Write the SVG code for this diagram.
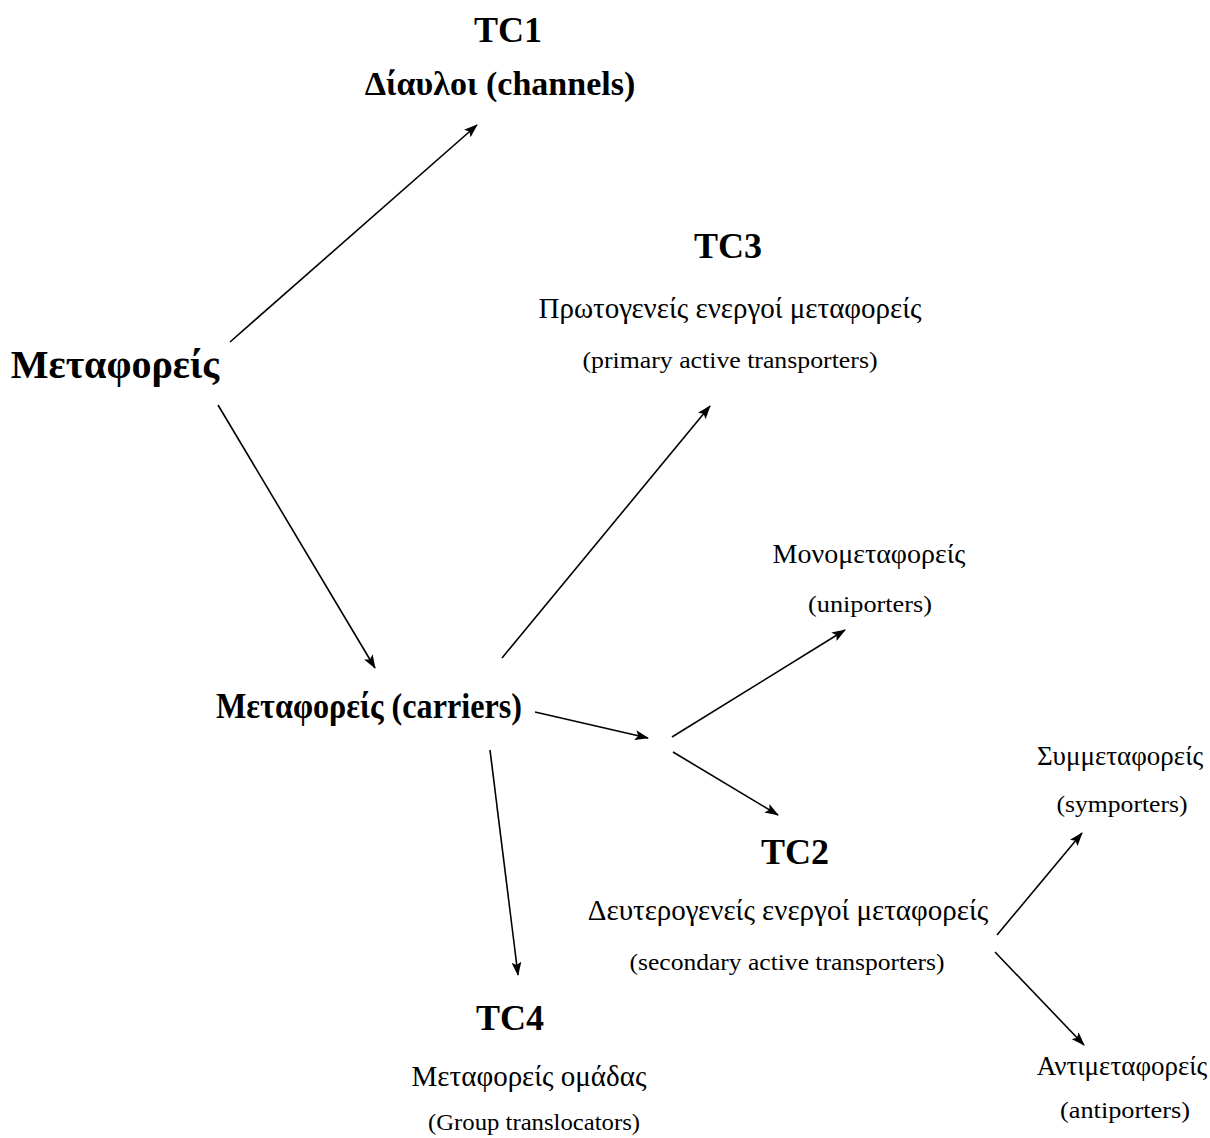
<svg xmlns="http://www.w3.org/2000/svg" width="1210" height="1138" viewBox="0 0 1210 1138">
<defs>
<marker id="ah" markerWidth="14" markerHeight="10" refX="13" refY="5" orient="auto" markerUnits="userSpaceOnUse">
<path d="M0,0 L14,5 L0,10 L3,5 Z" fill="#000"/>
</marker>
<style>
text{font-family:"Liberation Serif","DejaVu Serif",serif;fill:#000;text-anchor:middle}
.h{font-weight:bold;font-size:36px}
.hb{font-weight:bold;font-size:34px}
.g{font-size:29px}
.e{font-size:24px}
.s{font-size:28px}
.s2{font-size:27px}
.se{font-size:24px}
.c line{stroke:#000;stroke-width:1.6;marker-end:url(#ah)}
</style>
</defs>
<rect width="1210" height="1138" fill="#fff"/>
<g id="connectors" class="c">
<line x1="230" y1="342" x2="477" y2="125"/>
<line x1="218" y1="405" x2="375" y2="668"/>
<line x1="502" y1="658" x2="710" y2="406"/>
<line x1="535" y1="712" x2="648" y2="738"/>
<line x1="672" y1="737" x2="845" y2="630"/>
<line x1="673" y1="752" x2="778" y2="815"/>
<line x1="490" y1="750" x2="518" y2="975"/>
<line x1="997" y1="935" x2="1082" y2="833"/>
<line x1="995" y1="952" x2="1084" y2="1045"/>
</g>
<g id="tc1">
<text class="h" x="508" y="42">TC1</text>
<text class="hb" x="500" y="95">Δίαυλοι (channels)</text>
</g>
<g id="root">
<text class="h" x="115" y="378" style="font-size:40px">Μεταφορείς</text>
</g>
<g id="tc3">
<text class="h" x="728" y="258">TC3</text>
<text class="g" x="730" y="318">Πρωτογενείς ενεργοί μεταφορείς</text>
<text class="e" x="730" y="368" textLength="295" lengthAdjust="spacingAndGlyphs">(primary active transporters)</text>
</g>
<g id="uniporters">
<text class="s" x="869" y="563">Μονομεταφορείς</text>
<text class="se" x="870" y="612" textLength="124" lengthAdjust="spacingAndGlyphs">(uniporters)</text>
</g>
<g id="carriers">
<text class="h" x="369" y="718" textLength="306" lengthAdjust="spacingAndGlyphs">Μεταφορείς (carriers)</text>
</g>
<g id="tc2">
<text class="h" x="795" y="864">TC2</text>
<text class="g" x="788" y="920">Δευτερογενείς ενεργοί μεταφορείς</text>
<text class="e" x="787" y="970" textLength="315" lengthAdjust="spacingAndGlyphs">(secondary active transporters)</text>
</g>
<g id="symporters">
<text class="s2" x="1120" y="765">Συμμεταφορείς</text>
<text class="se" x="1122" y="812" textLength="131" lengthAdjust="spacingAndGlyphs">(symporters)</text>
</g>
<g id="tc4">
<text class="h" x="510" y="1030">TC4</text>
<text class="g" x="529" y="1086">Μεταφορείς ομάδας</text>
<text class="e" x="534" y="1130" textLength="212" lengthAdjust="spacingAndGlyphs">(Group translocators)</text>
</g>
<g id="antiporters">
<text class="s2" x="1122" y="1075">Αντιμεταφορείς</text>
<text class="se" x="1125" y="1118" textLength="130" lengthAdjust="spacingAndGlyphs">(antiporters)</text>
</g>
</svg>
